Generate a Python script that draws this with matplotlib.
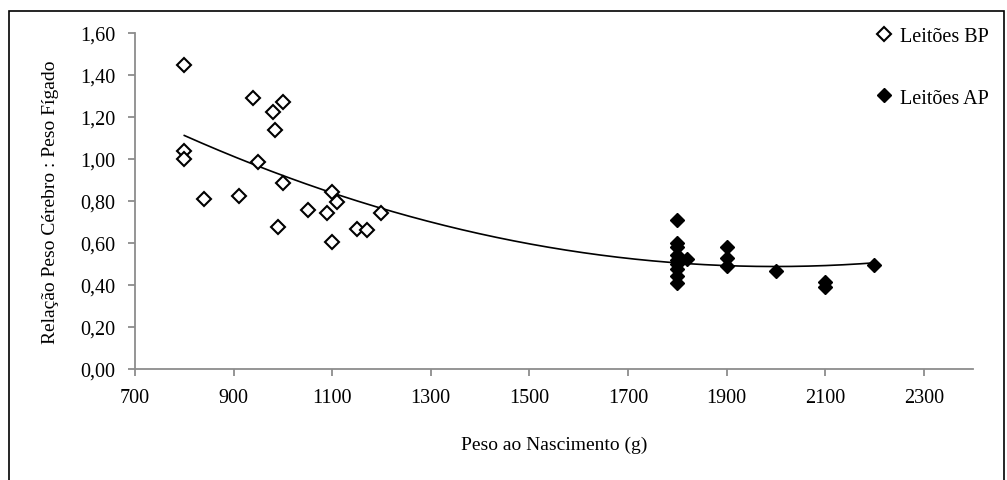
import numpy as np
import matplotlib
matplotlib.use("Agg")
import matplotlib.pyplot as plt
from matplotlib.patches import Rectangle

# Leitões BP (low birth weight)
bp_x = [800, 800, 800, 840, 910, 940, 950, 980, 985, 1000, 1000, 990,
        1050, 1090, 1100, 1100, 1110, 1150, 1170, 1200]
bp_y = [1.45, 1.04, 1.00, 0.81, 0.825, 1.29, 0.985, 1.225, 1.14, 1.27, 0.885, 0.675,
        0.755, 0.745, 0.845, 0.605, 0.795, 0.665, 0.66, 0.745]

# Leitões AP (high birth weight)
ap_x = [1800, 1800, 1800, 1800, 1800, 1800, 1800, 1800, 1800, 1820,
        1900, 1900, 1900, 2000, 2100, 2100, 2200]
ap_y = [0.71, 0.60, 0.58, 0.545, 0.52, 0.50, 0.475, 0.445, 0.41, 0.525,
        0.58, 0.53, 0.49, 0.465, 0.39, 0.415, 0.495]

x_ticks = [700, 900, 1100, 1300, 1500, 1700, 1900, 2100, 2300]
y_ticks = [0.0, 0.2, 0.4, 0.6, 0.8, 1.0, 1.2, 1.4, 1.6]

plt.rcParams['font.family'] = ['Liberation Serif', 'DejaVu Serif']

fig = plt.figure(figsize=(10.07, 4.81), dpi=100)
ax = fig.add_axes([135/1007, 1-370/481, (973-135)/1007, (370-34)/481])

# polynomial (2nd order) trend line over all points
all_x = np.array(bp_x + ap_x, dtype=float)
all_y = np.array(bp_y + ap_y, dtype=float)
coef = np.polyfit(all_x, all_y, 2)
xx = np.linspace(all_x.min(), all_x.max(), 200)
ax.plot(xx, np.polyval(coef, xx), color='black', lw=1.2, zorder=2)

ax.plot(bp_x, bp_y, linestyle='none', marker='D', ms=7.5, mfc='white',
        mec='black', mew=1.5, label='Leitões BP', zorder=3)
ax.plot(ap_x, ap_y, linestyle='none', marker='D', ms=7.5, mfc='black',
        mec='black', mew=1.0, label='Leitões AP', zorder=3)

ax.set_xlim(700, 2400)
ax.set_ylim(0, 1.6)
ax.set_xticks(x_ticks)
ax.set_yticks(y_ticks)
ax.set_yticklabels([f"{v:.2f}".replace('.', ',') for v in y_ticks])

for s in ['top', 'right']:
    ax.spines[s].set_visible(False)
for s in ['left', 'bottom']:
    ax.spines[s].set_color('#8c8c8c')
    ax.spines[s].set_linewidth(1.3)
ax.tick_params(axis='both', colors='#8c8c8c', labelcolor='black', labelsize=14.5,
               length=5, width=1.3, direction='out')
ax.tick_params(axis='y', pad=9)
ax.tick_params(axis='x', pad=9)

ax.set_xlabel('Peso ao Nascimento (g)', fontsize=14, labelpad=20)
ax.set_ylabel('Relação Peso Cérebro : Peso Fígado', fontsize=14, labelpad=15)

leg = ax.legend(loc='upper left', bbox_to_anchor=(866/1007, 1-20/481),
                bbox_transform=fig.transFigure, frameon=False, fontsize=14.5,
                labelspacing=2.1, handletextpad=0.3, handlelength=1.0,
                borderaxespad=0)

fig.patches.append(Rectangle((9/1007, -0.05), (1004-9)/1007, 1-12/481+0.05,
                             transform=fig.transFigure, fill=False,
                             edgecolor='black', lw=1.2))

fig.savefig('out.png', dpi=100)
